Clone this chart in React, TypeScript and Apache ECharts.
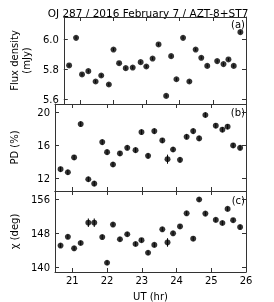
import React, { useEffect, useRef } from "react";
import * as echarts from "echarts";

const ut = [20.66, 20.87, 21.05, 21.24, 21.46, 21.63, 21.86, 22.0, 22.17, 22.37, 22.58, 22.82, 22.99, 23.18, 23.36, 23.59, 23.74, 23.9, 24.1, 24.29, 24.48, 24.65, 24.83, 25.13, 25.32, 25.47, 25.63, 25.83];
const flux = [5.827, 6.011, 5.767, 5.789, 5.72, 5.76, 5.70, 5.933, 5.842, 5.809, 5.813, 5.849, 5.82, 5.873, 5.967, 5.624, 5.889, 5.735, 6.011, 5.72, 5.933, 5.878, 5.824, 5.856, 5.836, 5.867, 5.824, 6.049];
const fluxErr = [0.01, 0.01, 0.01, 0.01, 0.01, 0.01, 0.01, 0.01, 0.01, 0.01, 0.01, 0.01, 0.01, 0.01, 0.01, 0.01, 0.01, 0.01, 0.01, 0.01, 0.01, 0.01, 0.01, 0.01, 0.01, 0.01, 0.01, 0.01];
const pd = [13.13, 12.76, 14.55, 18.58, 11.92, 11.39, 16.4, 15.19, 13.7, 15.03, 15.71, 15.43, 17.61, 14.74, 17.73, 16.6, 14.34, 15.51, 14.26, 17.04, 17.73, 16.85, 19.67, 18.38, 17.9, 18.26, 16.0, 15.71];
const pdErr = [0.3, 0.3, 0.3, 0.3, 0.3, 0.3, 0.3, 0.3, 0.3, 0.3, 0.3, 0.3, 0.3, 0.3, 0.3, 0.3, 0.55, 0.3, 0.3, 0.3, 0.3, 0.3, 0.3, 0.3, 0.3, 0.3, 0.3, 0.3];
const chi = [145.2, 147.26, 144.55, 145.8, 150.56, 150.56, 147.19, 141.17, 150.12, 146.68, 147.85, 145.57, 146.46, 143.52, 145.36, 149.02, 145.93, 148.07, 149.68, 152.76, 146.82, 156.0, 152.7, 151.22, 150.49, 153.8, 151.15, 149.54];
const chiErr = [0.5, 0.5, 0.5, 0.5, 1.0, 1.0, 0.5, 0.5, 0.5, 0.5, 0.5, 0.5, 0.5, 0.5, 0.5, 0.5, 1.0, 0.5, 0.5, 0.5, 0.5, 0.5, 0.5, 0.5, 0.5, 0.5, 0.5, 0.5];

const xTicks = [21, 22, 23, 24, 25, 26];
const fluxTicks = [5.6, 5.8, 6.0];
const pdTicks = [12, 16, 20];
const chiTicks = [140, 148, 156];

const panelLabels = ["(a)", "(b)", "(c)"];
const yNames = ["Flux density\n(mJy)", "PD (%)", "\u03c7 (deg)"];
const titleText = "OJ 287 / 2016 February 7 / AZT-8+ST7";
const xName = "UT (hr)";

const FONT = "DejaVu Sans";

export default function App() {
  const ref = useRef<HTMLDivElement>(null);
  useEffect(() => {
    if (!ref.current) return;
    const chart = echarts.init(ref.current, null, { renderer: "svg" });
    const grids = [
      { left: 49, right: 28, top: 17, height: 87 },
      { left: 49, right: 28, top: 104, height: 87 },
      { left: 49, right: 28, top: 191, height: 86 },
    ];
    const ranges = [
      { min: 5.57, max: 6.15, ticks: fluxTicks, dec: 1 },
      { min: 10.5, max: 21, ticks: pdTicks, dec: 0 },
      { min: 139, max: 158, ticks: chiTicks, dec: 0 },
    ];
    const ys = [flux, pd, chi];
    const errs = [fluxErr, pdErr, chiErr];
    const lineColor = "#333";
    const xAxis: any[] = [];
    const yAxis: any[] = [];
    const series: any[] = [];
    grids.forEach((g, i) => {
      xAxis.push({
        type: "value",
        gridIndex: i,
        min: 20.5,
        max: 26,
        position: "bottom",
        axisLine: { show: true, lineStyle: { color: lineColor, width: 1 } },
        axisTick: { show: true, inside: true, length: 4, customValues: xTicks, lineStyle: { color: lineColor } },
        axisLabel: {
          show: i === 2,
          customValues: xTicks,
          color: "#000",
          fontFamily: FONT,
          fontSize: 10,
          margin: 3,
        },
        splitLine: { show: false },
        name: i === 2 ? xName : "",
        nameLocation: "middle",
        nameGap: 19,
        nameTextStyle: { fontFamily: FONT, fontSize: 10, color: "#000" },
      });
      xAxis.push({
        type: "value",
        gridIndex: i,
        min: 20.5,
        max: 26,
        position: "top",
        axisLine: { show: true, lineStyle: { color: lineColor, width: 1 } },
        axisTick: { show: true, inside: true, length: 4, customValues: xTicks, lineStyle: { color: lineColor } },
        axisLabel: { show: false },
        splitLine: { show: false },
      });
      const r = ranges[i];
      yAxis.push({
        type: "value",
        gridIndex: i,
        min: r.min,
        max: r.max,
        position: "left",
        axisLine: { show: true, lineStyle: { color: lineColor, width: 1 } },
        axisTick: { show: true, inside: true, length: 4, customValues: r.ticks, lineStyle: { color: lineColor } },
        axisLabel: {
          customValues: r.ticks,
          formatter: (v: number) => v.toFixed(r.dec),
          color: "#000",
          fontFamily: FONT,
          fontSize: 10,
          margin: 5,
        },
        splitLine: { show: false },
        name: yNames[i],
        nameLocation: "middle",
        nameRotate: 90,
        nameGap: i === 0 ? 28 : 35,
        nameTextStyle: { fontFamily: FONT, fontSize: 10, color: "#000", lineHeight: 12 },
      });
      yAxis.push({
        type: "value",
        gridIndex: i,
        min: r.min,
        max: r.max,
        position: "right",
        axisLine: { show: true, lineStyle: { color: lineColor, width: 1 } },
        axisTick: { show: true, inside: true, length: 4, customValues: r.ticks, lineStyle: { color: lineColor } },
        axisLabel: { show: false },
        splitLine: { show: false },
      });
      const e = errs[i];
      series.push({
        type: "custom",
        xAxisIndex: i * 2,
        yAxisIndex: i * 2,
        data: ut.map((x, k) => [x, ys[i][k], e[k]]),
        renderItem: (params: any, api: any) => {
          const x = api.value(0);
          const y = api.value(1);
          const er = api.value(2);
          const p1 = api.coord([x, y - er]);
          const p2 = api.coord([x, y + er]);
          return {
            type: "line",
            shape: { x1: p1[0], y1: p1[1], x2: p2[0], y2: p2[1] },
            style: { stroke: "#000", lineWidth: 1 },
          };
        },
      });
      series.push({
        type: "scatter",
        xAxisIndex: i * 2,
        yAxisIndex: i * 2,
        symbol: "circle",
        symbolSize: 6,
        itemStyle: { color: "#000" },
        data: ut.map((x, k) => [x, ys[i][k]]),
      });
    });
    const labelY = [24, 112, 200];
    const graphic: any[] = panelLabels.map((t, i) => ({
      type: "text",
      x: 245,
      y: labelY[i],
      style: { text: t, fontFamily: FONT, fontSize: 10, fill: "#000", align: "right", verticalAlign: "middle" },
    }));
    graphic.push({
      type: "text",
      x: 148,
      y: 12.5,
      style: { text: titleText, fontFamily: FONT, fontSize: 10.5, fill: "#000", align: "center", verticalAlign: "middle" },
    });
    chart.setOption({
      animation: false,
      grid: grids,
      xAxis,
      yAxis,
      series,
      graphic,
    });
    return () => chart.dispose();
  }, []);
  return <div ref={ref} style={{ position: "fixed", left: 0, top: 0, width: 274, height: 302 }} />;
}
